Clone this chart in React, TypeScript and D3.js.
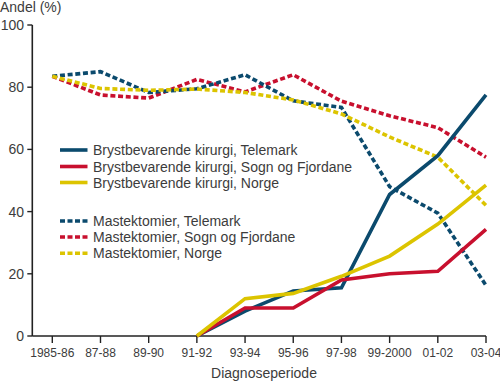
import React from "react";
import * as d3 from "d3";

const periods = ["1985-86", "87-88", "89-90", "91-92", "93-94", "95-96", "97-98", "99-2000", "01-02", "03-04"];
const yTicks = [0, 20, 40, 60, 80, 100];

const brystTelemark: (number | null)[] = [null, null, null, 0, 8, 14.5, 15.5, 45.5, 58, 77.5];
const brystSogn: (number | null)[] = [null, null, null, 0, 9, 9, 18, 20, 20.8, 34.3];
const brystNorge: (number | null)[] = [null, null, null, 0, 12, 13.7, 19.2, 25.7, 36, 48.5];
const mastTelemark: number[] = [83.5, 85, 78.3, 79.5, 84, 75.6, 73.5, 48, 39.5, 16.3];
const mastSogn: number[] = [83.5, 77.5, 76.5, 82.5, 78.5, 84, 75.5, 70.8, 67, 57.5];
const mastNorge: number[] = [83.5, 79.6, 79, 79.4, 78.3, 75.9, 71.4, 64, 57.5, 42];

const BLUE = "#0b4a6d";
const RED = "#c8102e";
const YELLOW = "#dcc400";

const series = [
  { name: "Brystbevarende kirurgi, Telemark", values: brystTelemark, color: BLUE, dashed: false },
  { name: "Brystbevarende kirurgi, Sogn og Fjordane", values: brystSogn, color: RED, dashed: false },
  { name: "Brystbevarende kirurgi, Norge", values: brystNorge, color: YELLOW, dashed: false },
  { name: "Mastektomier, Telemark", values: mastTelemark, color: BLUE, dashed: true },
  { name: "Mastektomier, Sogn og Fjordane", values: mastSogn, color: RED, dashed: true },
  { name: "Mastektomier, Norge", values: mastNorge, color: YELLOW, dashed: true },
];

const drawOrder = [4, 3, 5, 0, 1, 2];

export default function App() {
  const W = 500, H = 381;
  const x = d3.scalePoint<string>().domain(periods).range([52.3, 486]);
  const y = d3.scaleLinear().domain([0, 100]).range([336, 25]);
  const axisX = 32.3;
  const line = d3
    .line<number | null>()
    .defined((d) => d !== null)
    .x((_, i) => x(periods[i]) as number)
    .y((d) => y(d as number));
  const font = "'Liberation Sans', Arial, Helvetica, sans-serif";
  const textColor = "#3c3c3c";
  const legendY1 = [150, 166.5, 182.5];
  const legendY2 = [221, 237, 253.3];

  return (
    <svg width={W} height={H} style={{ position: "absolute", left: 0, top: 0 }} fontFamily={font}>
      <rect width={W} height={H} fill="#fff" />
      <line x1={axisX} x2={axisX} y1={y(100)} y2={y(0)} stroke="#222" strokeWidth={1.6} />
      <line x1={axisX} x2={486} y1={y(0)} y2={y(0)} stroke="#222" strokeWidth={1.6} />
      {yTicks.map((t) => (
        <g key={t}>
          <line x1={axisX - 5} x2={axisX} y1={y(t)} y2={y(t)} stroke="#222" strokeWidth={1.4} />
          <text x={24} y={y(t)} dy="0.36em" textAnchor="end" fontSize={14} fill={textColor}>
            {t}
          </text>
        </g>
      ))}
      {periods.map((p) => (
        <g key={p}>
          <line x1={x(p)} x2={x(p)} y1={y(0)} y2={y(0) + 7} stroke="#222" strokeWidth={1.4} />
          <text x={x(p)} y={357} textAnchor="middle" fontSize={12} fill={textColor}>
            {p}
          </text>
        </g>
      ))}
      <text x={0} y={12} fontSize={14} fill={textColor}>Andel (%)</text>
      <text x={264} y={378} textAnchor="middle" fontSize={14} fill={textColor}>Diagnoseperiode</text>

      {drawOrder.map((i) => {
        const s = series[i];
        return (
          <path
            key={s.name}
            d={line(s.values) || ""}
            fill="none"
            stroke={s.color}
            strokeWidth={3.6}
            strokeDasharray={s.dashed ? "5,2.7" : undefined}
            strokeLinejoin="miter"
          />
        );
      })}

      {series.map((s, i) => {
        const ly = i < 3 ? legendY1[i] : legendY2[i - 3];
        return (
          <g key={s.name}>
            <line
              x1={60}
              x2={87.5}
              y1={ly}
              y2={ly}
              stroke={s.color}
              strokeWidth={3.6}
              strokeDasharray={s.dashed ? "5,2.5" : undefined}
            />
            <text x={93} y={ly} dy="0.36em" fontSize={14} fill={textColor}>
              {s.name}
            </text>
          </g>
        );
      })}
    </svg>
  );
}
